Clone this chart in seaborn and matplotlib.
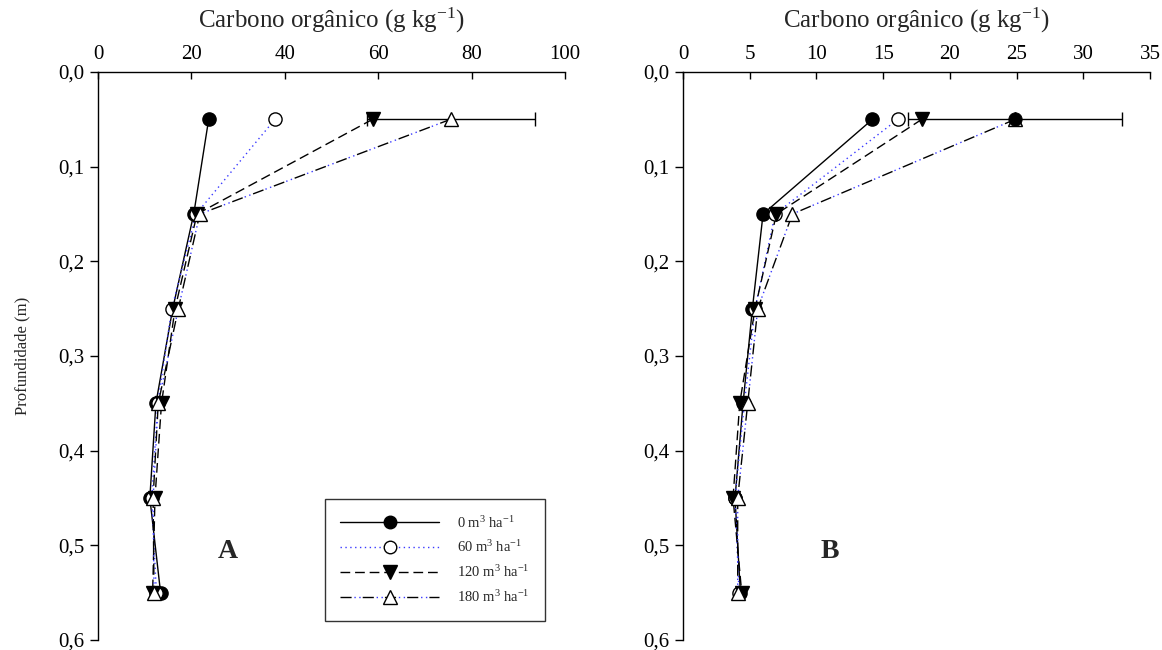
import matplotlib
matplotlib.use("Agg")
import matplotlib.pyplot as plt
from matplotlib.legend_handler import HandlerTuple
from matplotlib.lines import Line2D
import seaborn as sns
import numpy as np

# ---------------- data ----------------
depth = [0.05, 0.15, 0.25, 0.35, 0.45, 0.55]

a_0 = [23.7, 20.5, 16.0, 12.4, 11.1, 13.4]
a_60 = [37.9, 21.0, 15.8, 12.8, 11.5, 12.5]
a_120 = [58.8, 21.2, 16.5, 13.6, 12.2, 11.7]
a_180 = [75.5, 21.8, 17.2, 12.9, 11.8, 12.0]
a_err_180 = [18.0]

b_0 = [14.2, 6.0, 5.2, 4.5, 3.9, 4.3]
b_60 = [16.1, 6.9, 5.4, 4.6, 3.9, 4.2]
b_120 = [17.9, 7.0, 5.4, 4.25, 3.75, 4.4]
b_180 = [24.9, 8.2, 5.6, 4.85, 4.1, 4.1]
b_err_180 = [8.0]

series_labels = [r"0 m$^3$ ha$^{-1}$", r"60 m$^3$ ha$^{-1}$",
                 r"120 m$^3$ ha$^{-1}$", r"180 m$^3$ ha$^{-1}$"]
x_ticks_a = [0, 20, 40, 60, 80, 100]
x_ticks_b = [0, 5, 10, 15, 20, 25, 30, 35]
y_ticks = [0.0, 0.1, 0.2, 0.3, 0.4, 0.5, 0.6]
y_tick_labels = ["0,0", "0,1", "0,2", "0,3", "0,4", "0,5", "0,6"]
x_title = r"Carbono orgânico (g kg$^{-1}$)"
y_title = "Profundidade (m)"
panel_letters = ["A", "B"]

# ---------------- style ----------------
sns.set_style("ticks")
plt.rcParams["font.family"] = ["Liberation Serif", "DejaVu Serif"]
plt.rcParams["mathtext.fontset"] = "custom"
plt.rcParams["mathtext.rm"] = "Liberation Serif"
plt.rcParams["mathtext.it"] = "Liberation Serif:italic"
plt.rcParams["mathtext.bf"] = "Liberation Serif:bold"

BLUE = "#3a3aff"
styles = [
    dict(parts=[dict(color="black", linestyle="-", lw=1.0)],
         marker="o", mfc="black", ms=9.5),
    dict(parts=[dict(color=BLUE, linestyle=(0, (1, 2.5)), lw=1.0)],
         marker="o", mfc="white", ms=9.5),
    dict(parts=[dict(color="black", linestyle=(0, (7, 3.5)), lw=1.0)],
         marker="v", mfc="black", ms=10),
    dict(parts=[dict(color="black", linestyle=(0, (8, 8)), lw=1.0),
                dict(color=BLUE, linestyle=(6, (1, 2.5, 1, 11.5)), lw=1.0)],
         marker="^", mfc="white", ms=10.5),
]

fig = plt.figure(figsize=(11.62, 6.5), dpi=100)
ax_a = fig.add_axes([98 / 1162, 10 / 650, 467 / 1162, 568 / 650])
ax_b = fig.add_axes([683 / 1162, 10 / 650, 467 / 1162, 568 / 650])


def draw_panel(ax, series, err_x, err_val, xlim, xticks, letter, letter_x):
    for vals, st in zip(series, styles):
        for part in st["parts"]:
            sns.lineplot(x=vals, y=depth, orient="y", sort=False, ax=ax,
                         color=part["color"], linestyle=part["linestyle"],
                         linewidth=part["lw"], zorder=2)
    # error bar of the 180 series at the surface layer
    ax.errorbar(err_x, depth[0], xerr=err_val, fmt="none", ecolor="black",
                elinewidth=1.0, capsize=5, capthick=1.0, zorder=3)
    for vals, st in zip(series, styles):
        sns.lineplot(x=vals, y=depth, orient="y", sort=False, ax=ax,
                     linestyle="none", marker=st["marker"],
                     markerfacecolor=st["mfc"], markeredgecolor="black",
                     markeredgewidth=1.0, markersize=st["ms"], zorder=4)
    ax.set_xlim(*xlim)
    ax.set_ylim(0.6, 0.0)
    ax.xaxis.tick_top()
    ax.xaxis.set_label_position("top")
    ax.set_xticks(xticks)
    ax.set_xticklabels([str(t) for t in xticks])
    ax.set_yticks(y_ticks)
    ax.set_yticklabels(y_tick_labels)
    ax.set_xlabel(x_title, fontsize=18, labelpad=12)
    ax.tick_params(axis="x", direction="in", length=5, width=1, labelsize=15,
                   pad=6, colors="black")
    ax.tick_params(axis="y", direction="out", length=6, width=1, labelsize=15,
                   pad=4, colors="black")
    for s in ["right", "bottom"]:
        ax.spines[s].set_visible(False)
    for s in ["top", "left"]:
        ax.spines[s].set_color("black")
        ax.spines[s].set_linewidth(1.0)
    ax.text(letter_x, 0.156, letter, transform=ax.transAxes, fontsize=20,
            fontweight="bold", ha="center", va="center")


draw_panel(ax_a, [a_0, a_60, a_120, a_180], a_180[0], a_err_180[0],
           (0, 100), x_ticks_a, panel_letters[0], 0.278)
draw_panel(ax_b, [b_0, b_60, b_120, b_180], b_180[0], b_err_180[0],
           (0, 35), x_ticks_b, panel_letters[1], 0.315)

# artefact of the original: the surface point of the 180 series in B is shown filled
sns.lineplot(x=[b_180[0]], y=[depth[0]], orient="y", ax=ax_b, linestyle="none",
             marker="o", markerfacecolor="black", markeredgecolor="black",
             markersize=9.5, zorder=5)

ax_a.set_ylabel(y_title, fontsize=12, labelpad=20)
ax_b.set_ylabel("")

# legend in panel A
handles = []
for st in styles:
    parts = [Line2D([], [], color=p["color"], linestyle=p["linestyle"], lw=p["lw"])
             for p in st["parts"]]
    mk = Line2D([], [], linestyle="none", marker=st["marker"],
                markerfacecolor=st["mfc"], markeredgecolor="black",
                markeredgewidth=1.0, markersize=st["ms"] * 0.95)
    handles.append(tuple(parts + [mk]))
leg = ax_a.legend(handles, series_labels, loc="lower left",
                  bbox_to_anchor=(0.486, 0.034), fontsize=10.5,
                  handler_map={tuple: HandlerTuple(ndivide=1, pad=0)},
                  handlelength=6.8, handletextpad=1.2, labelspacing=0.62,
                  borderpad=1.05, frameon=True, fancybox=False, borderaxespad=0)
leg.get_frame().set_edgecolor("black")
leg.get_frame().set_linewidth(1.0)

fig.savefig("out.png", dpi=100)
